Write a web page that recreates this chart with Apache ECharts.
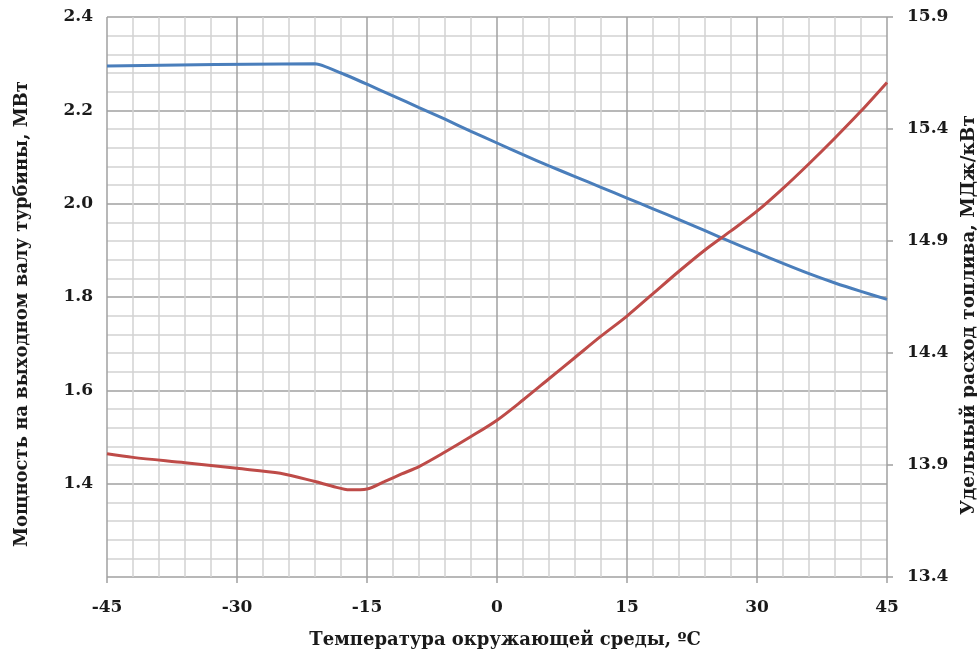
<!DOCTYPE html>
<html>
<head>
<meta charset="utf-8">
<script src="https://cdn.jsdelivr.net/npm/echarts@6/dist/echarts.min.js"></script>
<style>
html,body{margin:0;padding:0;background:#fff;}
#chart{width:977px;height:654px;}
</style>
</head>
<body>
<div id="chart"></div>
<script>
// Temperature (°C) -> shaft power (MW), left axis
const powerTemps = [-45, -21, -18, -15, -12, -9, -6, -3, 0, 3, 6, 9, 12, 15, 18, 21, 24, 27, 30, 33, 36, 39, 42, 45];
const powerValues = [2.295, 2.300, 2.280, 2.256, 2.231, 2.206, 2.181, 2.155, 2.130, 2.105, 2.081, 2.058, 2.035, 2.012, 1.989, 1.966, 1.942, 1.918, 1.895, 1.872, 1.850, 1.830, 1.812, 1.795];

// Temperature (°C) -> specific fuel consumption (MJ/kW), right axis
const fuelTemps = [-45, -42, -36, -30, -25, -21, -19, -17, -15, -13, -11, -9, -6, -3, 0, 3, 6, 9, 12, 15, 18, 21, 24, 27, 30, 33, 36, 39, 42, 45];
const fuelValues = [13.950, 13.934, 13.910, 13.885, 13.863, 13.826, 13.805, 13.789, 13.793, 13.826, 13.860, 13.893, 13.958, 14.027, 14.100, 14.190, 14.285, 14.380, 14.475, 14.565, 14.665, 14.765, 14.860, 14.945, 15.033, 15.135, 15.245, 15.360, 15.480, 15.608];

const xTicks = [-45, -30, -15, 0, 15, 30, 45];
const leftTicks = [1.4, 1.6, 1.8, 2.0, 2.2, 2.4];
const rightTicks = [13.4, 13.9, 14.4, 14.9, 15.4, 15.9];

const FONT = '"DejaVu Serif", "Liberation Serif", serif';
const MAJOR = '#a0a0a0';
const MINOR = '#d2d2d2';
const TXT = '#1a1a1a';

const chart = echarts.init(document.getElementById('chart'));
chart.setOption({
  animation: false,
  backgroundColor: '#ffffff',
  grid: {left: 107, right: 90, top: 17, bottom: 77, containLabel: false, outerBoundsMode: 'none'},
  xAxis: {
    type: 'value', min: -45, max: 45, interval: 15,
    axisLine: {show: false},
    axisTick: {show: true, length: 6, lineStyle: {color: MAJOR, width: 1.5}},
    axisLabel: {color: TXT, fontFamily: FONT, fontWeight: 'bold', fontSize: 17, margin: 22,
      formatter: v => xTicks.includes(v) ? String(v) : ''},
    splitLine: {show: true, lineStyle: {color: MAJOR, width: 1.5}},
    minorTick: {show: false, splitNumber: 5},
    minorSplitLine: {show: true, lineStyle: {color: MINOR, width: 1.5}},
    name: 'Температура окружающей среды, ºС',
    nameLocation: 'middle', nameGap: 54,
    nameTextStyle: {color: TXT, fontFamily: FONT, fontWeight: 'bold', fontSize: 18, padding: [0, 0, 0, 16]}
  },
  yAxis: [{
    type: 'value', min: 1.2, max: 2.4, interval: 0.2,
    axisLine: {show: false},
    axisTick: {show: false},
    axisLabel: {color: TXT, fontFamily: FONT, fontWeight: 'bold', fontSize: 17, margin: 14,
      showMinLabel: false,
      formatter: v => leftTicks.some(t => Math.abs(t - v) < 1e-6) ? v.toFixed(1) : ''},
    splitLine: {show: true, lineStyle: {color: MAJOR, width: 1.5}},
    minorTick: {show: false, splitNumber: 5},
    minorSplitLine: {show: true, lineStyle: {color: MINOR, width: 1.5}},
    name: 'Мощность на выходном валу турбины, МВт',
    nameLocation: 'middle', nameGap: 76, nameRotate: 90,
    nameTextStyle: {color: TXT, fontFamily: FONT, fontWeight: 'bold', fontSize: 18, padding: [0, 34, 0, 0]}
  }, {
    type: 'value', min: 13.4, max: 15.9, interval: 0.5, position: 'right',
    axisLine: {show: false},
    axisTick: {show: true, length: 6, lineStyle: {color: MAJOR, width: 1.5}},
    axisLabel: {color: TXT, fontFamily: FONT, fontWeight: 'bold', fontSize: 17, margin: 20,
      formatter: v => rightTicks.some(t => Math.abs(t - v) < 1e-6) ? v.toFixed(1) : ''},
    splitLine: {show: false},
    name: 'Удельный расход топлива, МДж/кВт',
    nameLocation: 'middle', nameGap: 68, nameRotate: 90,
    nameTextStyle: {color: TXT, fontFamily: FONT, fontWeight: 'bold', fontSize: 18.5, padding: [0, 36, 0, 0]}
  }],
  series: [{
    type: 'line', yAxisIndex: 0, showSymbol: false, smooth: 0.2,
    lineStyle: {color: '#4a7ebb', width: 3},
    data: powerTemps.map((t, i) => [t, powerValues[i]])
  }, {
    type: 'line', yAxisIndex: 1, showSymbol: false, smooth: 0.3,
    lineStyle: {color: '#be4b48', width: 3},
    data: fuelTemps.map((t, i) => [t, fuelValues[i]])
  }]
});
</script>
</body>
</html>
